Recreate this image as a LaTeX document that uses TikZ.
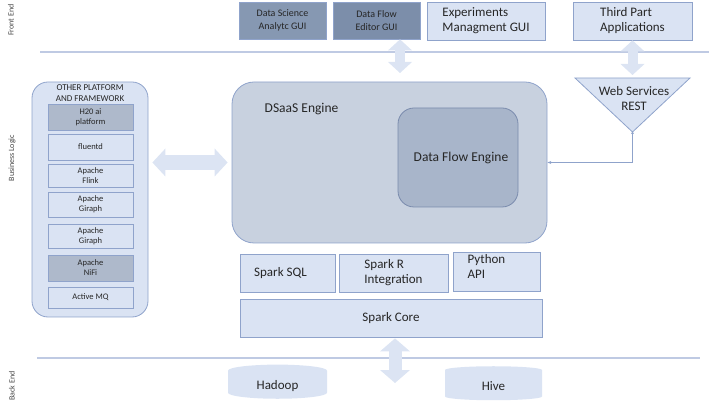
\documentclass[tikz,border=0pt]{standalone}
\usepackage{fontspec}
\setmainfont{Carlito}
\usetikzlibrary{arrows.meta, shapes.geometric}
\definecolor{clight}{HTML}{DAE3F3}
\definecolor{cedge}{HTML}{8FA3CB}
\definecolor{cengine}{HTML}{C8D1DF}
\definecolor{cflow}{HTML}{A8B5CA}
\definecolor{cdark}{HTML}{8698B2}
\definecolor{cdarker}{HTML}{7C8EAA}
\definecolor{cmid}{HTML}{AEB9CB}
\definecolor{carrow}{HTML}{DCE4F3}
\definecolor{cline}{HTML}{BFCAE3}
\definecolor{ctext}{HTML}{262626}
\definecolor{cside}{HTML}{454545}
\tikzset{
  every picture/.style={x=1pt, y=-1pt, line width=0.8pt},
  box/.style={draw=cedge, fill=#1, align=center, inner sep=2pt, text=ctext},
  box/.default=clight,
  gui/.style={box=#1, font=\fontsize{10}{12.5}\selectfont, minimum width=87pt, minimum height=37pt},
  wide/.style={box, align=left, font=\fontsize{13}{15}\selectfont, minimum height=38pt},
  spark/.style={box, align=left, font=\fontsize{13}{15}\selectfont, minimum height=38pt},
  tool/.style={box=#1, font=\fontsize{8.5}{10}\selectfont, minimum width=85pt, inner sep=1pt},
  tool/.default=clight,
  store/.style={cylinder, shape border rotate=90, aspect=0.25, fill=clight, draw=none, text=ctext,
    font=\fontsize{13}{15}\selectfont},
  layer/.style={rotate=90, font=\fontsize{8}{10}\selectfont, text=cside},
  layerline/.style={draw=cline, line width=1.6pt},
  fatarrow/.style={draw=carrow, line width=#1},
  link/.style={draw=cedge, line width=0.9pt, {Circle[length=2.5pt]}-{Stealth[length=4pt]}},
}
\begin{document}
\begin{tikzpicture}
  \useasboundingbox (0,0) rectangle (709,411);
  % layers
  \node[layer] (fe) at (11,20) {Front End};
  \node[layer] (bl) at (12,158) {Business Logic};
  \node[layer] (be) at (12,386) {Back End};
  \draw[layerline] (40,52) -- (709,52);
  \draw[layerline] (37,358) -- (700,358);

  % front end
  \node[gui=cdark] (dsgui) at (282.5,20.5) {Data Science\\Analytc GUI};
  \node[gui=cdarker] (dfgui) at (376.5,20.5) {Data Flow\\Editor GUI};
  \node[wide, minimum width=118pt] (expgui) at (486,21) {Experiments\\Managment GUI};
  \node[wide, minimum width=119pt] (tpa) at (632.5,21) {Third Part\\Applications};

  % business logic
  \node[box=cengine, rounded corners=22pt, minimum width=315pt, minimum height=161pt] (dsaas) at (389.5,162.5) {};
  \node[anchor=west, text=ctext, font=\fontsize{13.5}{16}\selectfont] (dsaaslabel) at (261,109) {DSaaS Engine};
  \node[box=cflow, draw=cedge!85!black, rounded corners=16pt, minimum width=120pt, minimum height=99pt,
    font=\fontsize{13.5}{16}\selectfont] (dfe) at (458,157.5) {\hspace*{6pt}Data Flow Engine};

  \coordinate (webtl) at (575,78);
  \coordinate (webtr) at (690,78);
  \coordinate (webtip) at (632.5,132);
  \coordinate (webtop) at (632.5,78);
  \draw[box] (webtl) -- (webtr) -- (webtip) -- cycle;
  \node[text=ctext, align=center, font=\fontsize{13}{15}\selectfont] (web) at (634,99) {Web Services\\REST};
  \draw[link] (webtip) |- (dsaas.east);

  \node[spark, minimum width=95pt] (sql) at (287.5,273) {Spark SQL\hspace*{14pt}};
  \node[spark, minimum width=109pt] (sparkr) at (393.5,273) {Spark R\\Integration};
  \node[spark, minimum width=87pt] (pyapi) at (496.5,272) {Python\hspace*{20pt}\\API\\[-4pt]};
  \node[spark, minimum width=302pt] (core) at (391,318) {Spark Core};

  % other platforms
  \node[box, rounded corners=16pt, minimum width=116pt, minimum height=235pt] (panel) at (90,199.5) {};
  \node[text=ctext, align=center, font=\fontsize{9}{11}\selectfont] (paneltitle) at (90,93.5) {OTHER PLATFORM\\AND FRAMEWORK};
  \foreach \n/\y/\h/\c/\t in {h2o/117/26/cmid/{H20 ai\\platform}, fluent/147/26/clight/fluentd,
      flink/175.5/23/clight/{Apache\\Flink}, giraph/204.5/25/clight/{Apache\\Giraph},
      giraphb/236/24/clight/{Apache\\Giraph}, nifi/268/26/cmid/{Apache\\NiFi}, amq/297.5/21/clight/{Active MQ}}
    \node[tool=\c, minimum height=\h pt] (\n) at (90.5,\y) {\t};

  % back end
  \node[store, minimum width=99pt, minimum height=34pt] (hadoop) at (277.5,386) {Hadoop};
  \node[store, minimum width=97pt, minimum height=34pt] (hive) at (493.5,386) {Hive};
  \coordinate (feL) at (400,73);
  \coordinate (beM) at (395,383);

  % block arrows
  \draw[fatarrow=10pt, {Triangle[length=11pt, width=24pt, line width=0pt]}-{Triangle[length=11pt, width=24pt, line width=0pt]}]
    (dfgui.south -| feL) -- (feL);
  \draw[fatarrow=10pt, {Triangle[length=11pt, width=24pt, line width=0pt]}-{Triangle[length=11pt, width=24pt, line width=0pt]}, shorten >=3pt]
    (tpa.south) -- (webtop);
  \draw[fatarrow=15pt, {Triangle[length=13pt, width=28pt, line width=0pt]}-{Triangle[length=13pt, width=28pt, line width=0pt]}, shorten <=4pt, shorten >=4pt]
    (panel.east |- dsaas.west) -- (dsaas.west);
  \draw[fatarrow=13pt, {Triangle[length=13pt, width=30pt, line width=0pt]}-{Triangle[length=13pt, width=30pt, line width=0pt]}, shorten <=1pt]
    (core.south -| beM) -- (beM);
\end{tikzpicture}
\end{document}
